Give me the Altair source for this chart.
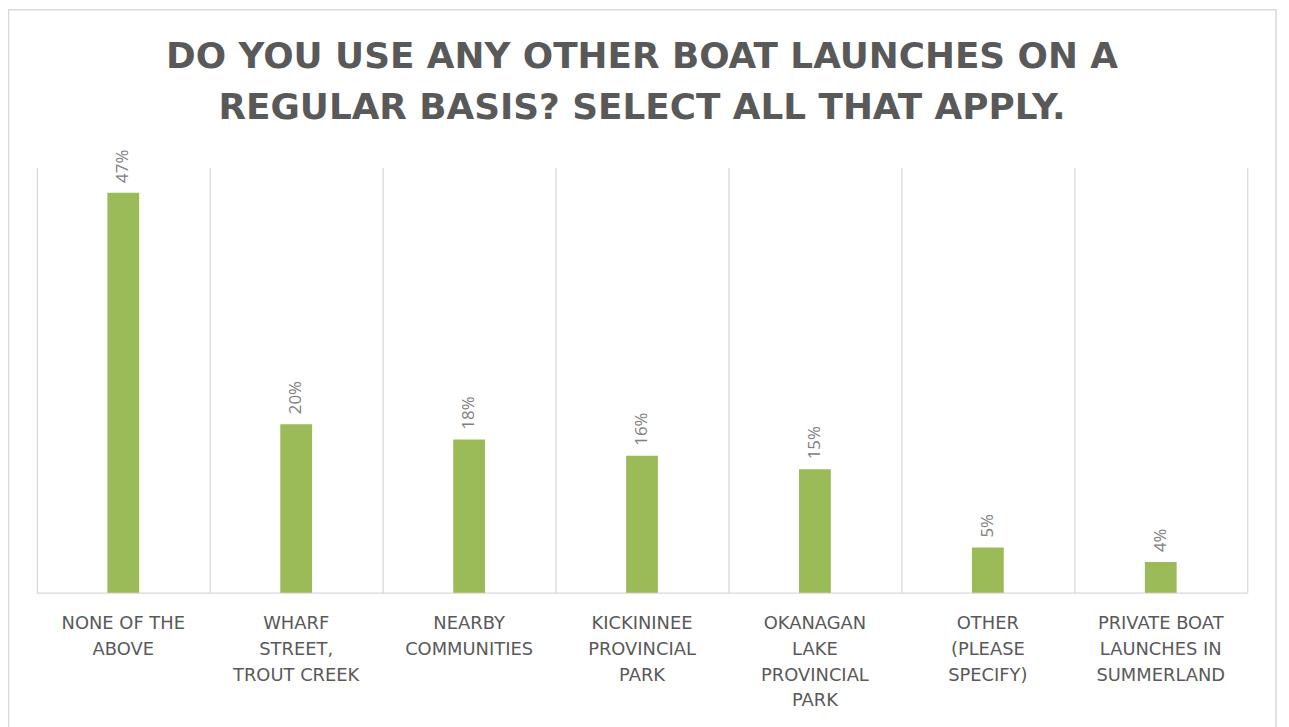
import altair as alt
import pandas as pd

categories = [
    "NONE OF THE|ABOVE",
    "WHARF|STREET,|TROUT CREEK",
    "NEARBY|COMMUNITIES",
    "KICKININEE|PROVINCIAL|PARK",
    "OKANAGAN|LAKE|PROVINCIAL|PARK",
    "OTHER|(PLEASE|SPECIFY)",
    "PRIVATE BOAT|LAUNCHES IN|SUMMERLAND",
]
values = [0.47, 0.198, 0.18, 0.161, 0.145, 0.053, 0.036]
labels = ["47%", "20%", "18%", "16%", "15%", "5%", "4%"]
title_lines = ["DO YOU USE ANY OTHER BOAT LAUNCHES ON A",
               "REGULAR BASIS? SELECT ALL THAT APPLY."]

df = pd.DataFrame({"category": categories, "value": values, "label": labels})

W, H = 1218, 428
GRID = "#D9D9D9"
TXT = "#595959"

base = alt.Chart(df).encode(
    x=alt.X(
        "category:N",
        sort=None,
        scale=alt.Scale(paddingInner=0, paddingOuter=0),
        axis=alt.Axis(
            title=None, labelAngle=0, labelExpr="split(datum.label, '|')",
            grid=True, bandPosition=0, ticks=False,
            gridColor=GRID, gridWidth=1.3, domainColor=GRID, domainWidth=1.3,
            labelFont="DejaVu Sans", labelFontSize=18, labelColor=TXT,
            labelLineHeight=26, labelPadding=22, labelLimit=300,
            labelBaseline="top",
        ),
    ),
    y=alt.Y(
        "value:Q",
        scale=alt.Scale(domain=[0, 0.5]),
        axis=alt.Axis(orient="right", title=None, labels=False, ticks=False,
                      grid=False, domainColor=GRID, domainWidth=1.3),
    ),
)

bars = base.mark_bar(size=32, color="#9BBB59")
text = base.mark_text(
    angle=270, align="left", baseline="middle", dx=10,
    font="Open Sans", fontSize=17, color="#808080",
).encode(text="label:N")

one = alt.Data(values=[{"a": 1}])

border = alt.Chart(one).mark_rect(
    filled=False, stroke=GRID, strokeWidth=1.5
).encode(
    x=alt.value(-28.5), x2=alt.value(1247), y=alt.value(-158.5), y2=alt.value(600)
)

title1 = alt.Chart(one).mark_text(
    font="DejaVu Sans", fontSize=36, fontWeight="bold", color=TXT,
    align="center", baseline="middle",
).encode(x=alt.value(W / 2), y=alt.value(-111), text=alt.value(title_lines[0]))

title2 = alt.Chart(one).mark_text(
    font="DejaVu Sans", fontSize=36, fontWeight="bold", color=TXT,
    align="center", baseline="middle",
).encode(x=alt.value(W / 2), y=alt.value(-60), text=alt.value(title_lines[1]))

chart = alt.layer(border, title1, title2, bars, text).properties(
    width=W, height=H,
    autosize="none",
    padding={"left": 29, "top": 158, "right": 34, "bottom": 150},
    background="white",
).configure_view(stroke=None)

chart.save("out.html", embed_options={"renderer": "svg", "actions": False})
